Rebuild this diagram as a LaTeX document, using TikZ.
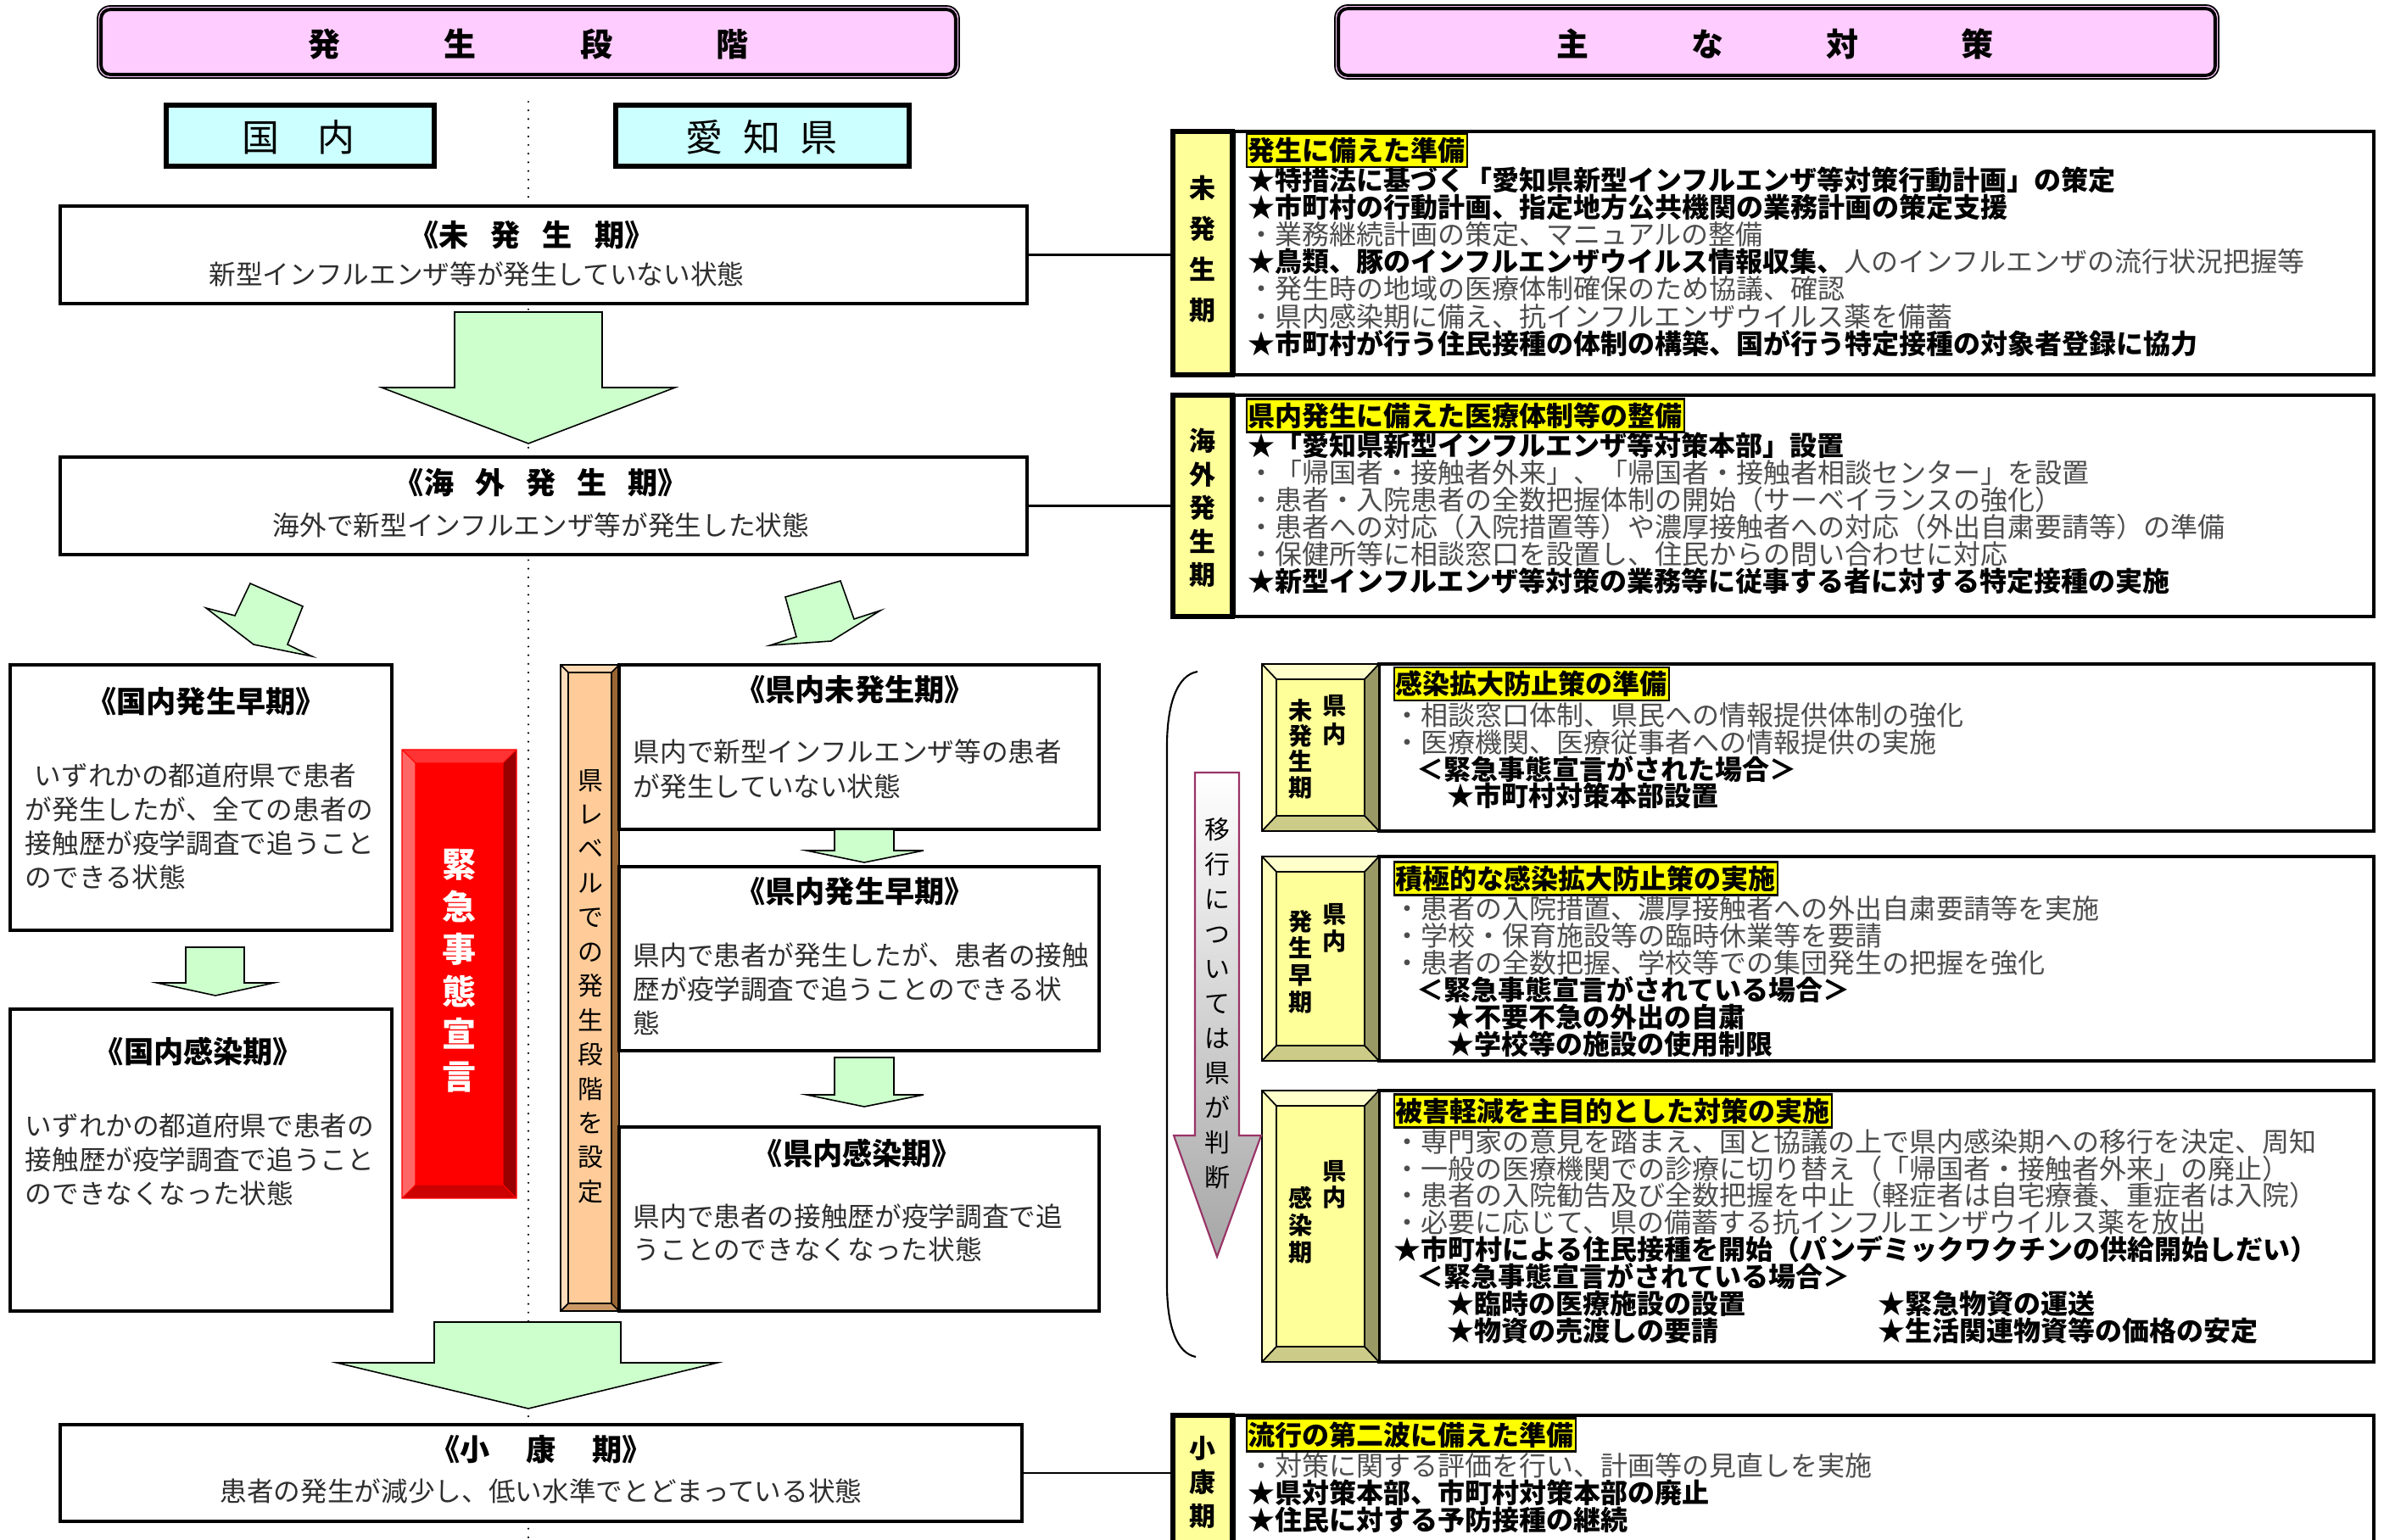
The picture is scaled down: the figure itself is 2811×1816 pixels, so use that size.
\documentclass[tikz,border=0pt]{standalone}
\usepackage{fontspec}
\setmainfont{Noto Sans CJK JP}
\usetikzlibrary{fit}
\definecolor{hdrpink}{HTML}{FFCCFF}
\definecolor{hdrcyan}{HTML}{CCFFFF}
\definecolor{agreen}{HTML}{CCFFCC}
\definecolor{lblyellow}{HTML}{FFFF99}
\definecolor{hilite}{HTML}{FFFF00}
\definecolor{tgray}{HTML}{4D4D4D}
\definecolor{bodygray}{HTML}{2E2E2E}
\definecolor{arrowborder}{HTML}{993366}
\definecolor{arrowgray}{HTML}{A6A6A6}
\definecolor{orface}{HTML}{FFCC99}
\definecolor{ortop}{HTML}{FFD9B3}
\definecolor{orleft}{HTML}{FFDDBB}
\definecolor{orright}{HTML}{996633}
\definecolor{orbot}{HTML}{CC9966}
\definecolor{rdface}{HTML}{FF0000}
\definecolor{rdtop}{HTML}{FF3333}
\definecolor{rdleft}{HTML}{FF6666}
\definecolor{rdright}{HTML}{990000}
\definecolor{rdbot}{HTML}{CC0000}
\definecolor{ylface}{HTML}{FFFF99}
\definecolor{yltop}{HTML}{FFFFCC}
\definecolor{ylleft}{HTML}{FFFFBB}
\definecolor{ylright}{HTML}{999966}
\definecolor{ylbot}{HTML}{CCCC88}
\newcommand\fR{\fontsize{9.1pt}{9.1pt}\selectfont}
\newcommand\bevelbox[6]{%
 \fill[bvtopc] (#1,#2) -- (#3,#2) -- ({#3-#5},{#2+#6}) -- ({#1+#5},{#2+#6}) -- cycle;
 \fill[bvleftc] (#1,#2) -- ({#1+#5},{#2+#6}) -- ({#1+#5},{#4-#6}) -- (#1,#4) -- cycle;
 \fill[bvrightc] (#3,#2) -- (#3,#4) -- ({#3-#5},{#4-#6}) -- ({#3-#5},{#2+#6}) -- cycle;
 \fill[bvbotc] (#1,#4) -- (#3,#4) -- ({#3-#5},{#4-#6}) -- ({#1+#5},{#4-#6}) -- cycle;
 \fill[bvfacec] ({#1+#5},{#2+#6}) rectangle ({#3-#5},{#4-#6});
 \draw[bvlinec] (#1,#2) rectangle (#3,#4) ({#1+#5},{#2+#6}) rectangle ({#3-#5},{#4-#6})
   (#1,#2) -- ({#1+#5},{#2+#6}) (#3,#2) -- ({#3-#5},{#2+#6})
   (#1,#4) -- ({#1+#5},{#4-#6}) (#3,#4) -- ({#3-#5},{#4-#6});
}
\begin{document}
\begin{tikzpicture}[x=0.01cm, y=-0.01cm,
  stagebox/.style={draw=black, line width=1pt, fill=white, inner sep=0pt},
  contentbox/.style={draw=black, line width=0.9pt, fill=white, inner sep=0pt},
  lblbox/.style={draw=black, line width=0.5pt, fill=lblyellow, inner sep=0pt},
  lblinner/.style={draw=black, line width=1.1pt},
  pinkbox/.style={draw=black, line width=0.5pt, fill=hdrpink, rounded corners=0.15cm, inner sep=0pt},
  pinkinner/.style={draw=black, line width=1.1pt, rounded corners=0.11cm},
  cyanbox/.style={draw=black, line width=1pt, fill=hdrcyan, inner sep=0pt},
  cyaninner/.style={draw=black, line width=0.45pt},
  garrow/.style={draw=black, line width=0.45pt, fill=agreen},
  conn/.style={draw=black, line width=0.6pt},
  dotline/.style={draw=black, line width=0.7pt, line cap=round, dash pattern=on 0pt off 2.9pt},
  brk/.style={draw=black, line width=0.6pt},
  hdrtext/.style={font=\fontsize{10.8pt}{12pt}\selectfont\bfseries, inner sep=0pt},
  cyantext/.style={font=\fontsize{12.5pt}{14pt}\selectfont, inner sep=0pt},
  ttlA/.style={font=\fontsize{10pt}{12pt}\selectfont\bfseries, inner sep=0pt},
  ttlB/.style={font=\fontsize{10pt}{12pt}\selectfont\bfseries, inner sep=0pt},
  subA/.style={font=\fontsize{9pt}{11pt}\selectfont, text=bodygray, inner sep=0pt},
  bodyln/.style={anchor=west, font=\fontsize{9pt}{11pt}\selectfont, text=bodygray, inner sep=0pt, text height=7.9pt, text depth=1.1pt},
  rl/.style={anchor=west, font=\fR, inner sep=0pt, text height=8pt, text depth=1.1pt},
  hl/.style={anchor=west, fill=hilite, draw=black, line width=0.6pt, inner xsep=0.5pt, inner ysep=0pt, minimum height=0.39cm, font=\fR\bfseries, text height=8pt, text depth=1.1pt},
  vtext/.style={align=center, inner sep=0pt}
]
\useasboundingbox (0,0) rectangle (2811,1816);
\fill[white] (0,0) rectangle (2811,1816);
\clip (0,0) rectangle (2811,1816);

% dotted divider
\coordinate (dotTop) at (623,120);
\coordinate (dotBot) at (623,1816);
\draw[dotline] (dotTop) -- (dotBot);

% headers
\node[pinkbox, fit={(115,7)(1131,92)}] (hdrL) {};
\draw[pinkinner] ([shift={(5,5)}]hdrL.north west) rectangle ([shift={(-5,-5)}]hdrL.south east);
\node[hdrtext] (hdrLt) at (623,52) {発\hspace{1.22cm}生\hspace{1.22cm}段\hspace{1.22cm}階};
\node[pinkbox, fit={(1574,6)(2616,93)}] (hdrR) {};
\draw[pinkinner] ([shift={(5,5)}]hdrR.north west) rectangle ([shift={(-5,-5)}]hdrR.south east);
\node[hdrtext] (hdrRt) at (2093,52) {主\hspace{1.21cm}な\hspace{1.21cm}対\hspace{1.21cm}策};

\node[cyanbox, fit={(195,123)(513,197)}] (koku) {};
\draw[cyaninner] ([shift={(5,5)}]koku.north west) rectangle ([shift={(-5,-5)}]koku.south east);
\node[cyantext] (kokuT) at (352,162) {国\hspace{0.45cm}内};
\node[cyanbox, fit={(725,123)(1073,197)}] (aichi) {};
\draw[cyaninner] ([shift={(5,5)}]aichi.north west) rectangle ([shift={(-5,-5)}]aichi.south east);
\node[cyantext] (aichiT) at (898,162) {愛\hspace{0.24cm}知\hspace{0.24cm}県};

% ---------- left: stage boxes ----------
\node[stagebox, fit={(71,243)(1211,358)}] (mih) {};
\node[ttlA] (mihT) at (627,277) {《未\hspace{0.26cm}発\hspace{0.26cm}生\hspace{0.26cm}期》};
\node[subA] (mihS) at (562,323) {新型インフルエンザ等が発生していない状態};

\draw[garrow] (536,368) -- (710,368) -- (710,457) -- (796,457) -- (623,523) -- (450,457) -- (536,457) -- cycle;

\node[stagebox, fit={(71,539)(1211,654)}] (kai) {};
\node[ttlA] (kaiT) at (638,569) {《海\hspace{0.25cm}外\hspace{0.25cm}発\hspace{0.25cm}生\hspace{0.25cm}期》};
\node[subA] (kaiS) at (638,619) {海外で新型インフルエンザ等が発生した状態};

\draw[garrow] (295,688) -- (357,715) -- (339,760) -- (368,774) -- (299,760) -- (243,717) -- (277,726) -- cycle;
\draw[garrow] (991,685) -- (1007,730) -- (1038,720) -- (980,756) -- (908,761) -- (939,751) -- (926,704) -- cycle;

\node[stagebox, fit={(12,784)(462,1097)}] (kso) {};
\node[ttlB] (ksoT) at (243,827) {《国内発生早期》};
\node[bodyln] (ksoL1) at (40,915) {いずれかの都道府県で患者};
\node[bodyln] (ksoL2) at (29,955) {が発生したが、全ての患者の};
\node[bodyln] (ksoL3) at (29,995) {接触歴が疫学調査で追うこと};
\node[bodyln] (ksoL4) at (29,1035) {のできる状態};

\draw[garrow] (219,1117) -- (288,1117) -- (288,1159) -- (323,1159) -- (254,1174) -- (185,1159) -- (219,1159) -- cycle;

\node[stagebox, fit={(12,1190)(462,1546)}] (kkan) {};
\node[ttlB] (kkanT) at (234,1240) {《国内感染期》};
\node[bodyln] (kkanL1) at (29,1328) {いずれかの都道府県で患者の};
\node[bodyln] (kkanL2) at (29,1368) {接触歴が疫学調査で追うこと};
\node[bodyln] (kkanL3) at (29,1408) {のできなくなった状態};

% red emergency bar
\begin{scope}[bvtopc/.style={fill=rdtop}, bvleftc/.style={fill=rdleft}, bvrightc/.style={fill=rdright}, bvbotc/.style={fill=rdbot}, bvfacec/.style={fill=rdface}, bvlinec/.style={draw=red, line width=0.3pt}]
\bevelbox{474}{884}{609}{1413}{16}{16}
\end{scope}
\node[vtext, font=\fontsize{11.4pt}{14.2pt}\selectfont\bfseries, text=white] (kinT) at (542,1145) {緊\\急\\事\\態\\宣\\言};

% orange bar
\begin{scope}[bvtopc/.style={fill=ortop}, bvleftc/.style={fill=orleft}, bvrightc/.style={fill=orright}, bvbotc/.style={fill=orbot}, bvfacec/.style={fill=orface}, bvlinec/.style={draw=black, line width=0.5pt}]
\bevelbox{661}{784}{730}{1546}{9}{9}
\end{scope}
\node[vtext, font=\fontsize{8.5pt}{11.5pt}\selectfont] (orT) at (696,1163) {県\\レ\\ベ\\ル\\で\\の\\発\\生\\段\\階\\を\\設\\定};

\node[stagebox, fit={(730,784)(1296,978)}] (kemi) {};
\node[ttlB] (kemiT) at (1008,813) {《県内未発生期》};
\node[bodyln] (kemiL1) at (746,887) {県内で新型インフルエンザ等の患者};
\node[bodyln] (kemiL2) at (746,928) {が発生していない状態};

\draw[garrow] (984,978) -- (1054,978) -- (1054,1003) -- (1089,1003) -- (1019,1017) -- (951,1003) -- (984,1003) -- cycle;

\node[stagebox, fit={(730,1022)(1296,1239)}] (keso) {};
\node[ttlB] (kesoT) at (1008,1051) {《県内発生早期》};
\node[bodyln] (kesoL1) at (746,1127) {県内で患者が発生したが、患者の接触};
\node[bodyln] (kesoL2) at (746,1167) {歴が疫学調査で追うことのできる状};
\node[bodyln] (kesoL3) at (746,1207) {態};

\draw[garrow] (984,1247) -- (1054,1247) -- (1054,1291) -- (1089,1291) -- (1019,1305) -- (951,1291) -- (984,1291) -- cycle;

\node[stagebox, fit={(730,1329)(1296,1546)}] (kekan) {};
\node[ttlB] (kekanT) at (1011,1360) {《県内感染期》};
\node[bodyln] (kekanL1) at (746,1435) {県内で患者の接触歴が疫学調査で追};
\node[bodyln] (kekanL2) at (746,1474) {うことのできなくなった状態};

\draw[garrow] (512,1559) -- (732,1559) -- (732,1607) -- (846,1607) -- (623,1661) -- (397,1607) -- (512,1607) -- cycle;

\node[stagebox, fit={(71,1680)(1205,1794)}] (sho) {};
\node[ttlA] (shoT) at (638,1709) {《小\hspace{0.43cm}康\hspace{0.43cm}期》};
\node[subA] (shoS) at (638,1758) {患者の発生が減少し、低い水準でとどまっている状態};

% ---------- right side ----------
\node[contentbox, fit={(1455,155)(2799,442)}] (con1) {};
\node[contentbox, fit={(1455,466)(2799,727)}] (con2) {};
\node[contentbox, fit={(1626,783)(2799,980)}] (con3) {};
\node[contentbox, fit={(1626,1010)(2799,1251)}] (con4) {};
\node[contentbox, fit={(1626,1286)(2799,1606)}] (con5) {};
\node[contentbox, fit={(1455,1669)(2799,1840)}] (con6) {};

\node[lblbox, fit={(1381,153)(1455,444)}] (lab1) {};
\draw[lblinner] ([shift={(4,4)}]lab1.north west) rectangle ([shift={(-4,-4)}]lab1.south east);
\node[lblbox, fit={(1381,464)(1455,729)}] (lab2) {};
\draw[lblinner] ([shift={(4,4)}]lab2.north west) rectangle ([shift={(-4,-4)}]lab2.south east);
\node[lblbox, fit={(1381,1667)(1455,1840)}] (lab6) {};
\draw[lblinner] ([shift={(4,4)}]lab6.north west) rectangle ([shift={(-4,-4)}]lab6.south east);

\draw[conn] (mih.east) -- (mih.east -| lab1.west);
\draw[conn] (kai.east) -- (kai.east -| lab2.west);
\draw[conn] (sho.east) -- (sho.east -| lab6.west);

\node[vtext, font=\fontsize{8.8pt}{13.66pt}\selectfont\bfseries] (lab1T) at (1418,294) {未\\発\\生\\期};
\node[vtext, font=\fontsize{8.8pt}{11.24pt}\selectfont\bfseries] (lab2T) at (1418,599) {海\\外\\発\\生\\期};
\node[vtext, font=\fontsize{8.8pt}{11.38pt}\selectfont\bfseries] (lab6T) at (1418,1748) {小\\康\\期};

% bevel labels
\begin{scope}[bvtopc/.style={fill=yltop}, bvleftc/.style={fill=ylleft}, bvrightc/.style={fill=ylright}, bvbotc/.style={fill=ylbot}, bvfacec/.style={fill=ylface}, bvlinec/.style={draw=black, line width=0.5pt}]
\bevelbox{1488}{783}{1626}{980}{17}{18}
\bevelbox{1488}{1010}{1626}{1251}{17}{18}
\bevelbox{1488}{1286}{1626}{1606}{17}{18}
\end{scope}
\node[vtext, font=\fontsize{8pt}{9.67pt}\selectfont\bfseries] (b3a) at (1574,849) {県\\内};
\node[vtext, font=\fontsize{8pt}{8.6pt}\selectfont\bfseries] (b3b) at (1534,883) {未\\発\\生\\期};
\node[vtext, font=\fontsize{8pt}{9.1pt}\selectfont\bfseries] (b4a) at (1574,1094) {県\\内};
\node[vtext, font=\fontsize{8pt}{9.0pt}\selectfont\bfseries] (b4b) at (1534,1134) {発\\生\\早\\期};
\node[vtext, font=\fontsize{8pt}{8.8pt}\selectfont\bfseries] (b5a) at (1574,1397) {県\\内};
\node[vtext, font=\fontsize{8pt}{9.1pt}\selectfont\bfseries] (b5b) at (1534,1445) {感\\染\\期};

% gray transition arrow and bracket
\shade[top color=white, bottom color=arrowgray] (1409,911) -- (1461,911) -- (1461,1339) -- (1487,1339) -- (1435,1482) -- (1384,1339) -- (1409,1339) -- cycle;
\draw[draw=arrowborder, line width=0.6pt] (1409,911) -- (1461,911) -- (1461,1339) -- (1487,1339) -- (1435,1482) -- (1384,1339) -- (1409,1339) -- cycle;
\node[vtext, font=\fontsize{8.5pt}{11.66pt}\selectfont] (graT) at (1435,1183) {移\\行\\に\\つ\\い\\て\\は\\県\\が\\判\\断};
\draw[brk] (1412,792) .. controls (1388,796) and (1376,830) .. (1376,880) -- (1376,1515) .. controls (1376,1565) and (1388,1596) .. (1410,1600);

% highlighted headings
\node[hl] (h1) at (1469,177.5) {発生に備えた準備};
\node[hl] (h2) at (1469,490) {県内発生に備えた医療体制等の整備};
\node[hl] (h3) at (1643,806.5) {感染拡大防止策の準備};
\node[hl] (h4) at (1643,1036) {積極的な感染拡大防止策の実施};
\node[hl] (h5) at (1643,1310) {被害軽減を主目的とした対策の実施};
\node[hl] (h6) at (1469,1692) {流行の第二波に備えた準備};

% block 1
\foreach \txt [count=\i from 0] in {
 {\bfseries ★特措法に基づく「愛知県新型インフルエンザ等対策行動計画」の策定},
 {\bfseries ★市町村の行動計画、指定地方公共機関の業務計画の策定支援},
 {\color{tgray}・業務継続計画の策定、マニュアルの整備},
 {\bfseries ★鳥類、豚のインフルエンザウイルス情報収集、{\mdseries\color{tgray}人のインフルエンザの流行状況把握等}},
 {\color{tgray}・発生時の地域の医療体制確保のため協議、確認},
 {\color{tgray}・県内感染期に備え、抗インフルエンザウイルス薬を備蓄},
 {\bfseries ★市町村が行う住民接種の体制の構築、国が行う特定接種の対象者登録に協力}}
 \node[rl] (pa\i) at (1471,{212+32.2*\i}) {\txt};

% block 2
\foreach \txt [count=\i from 0] in {
 {\bfseries ★「愛知県新型インフルエンザ等対策本部」設置},
 {\color{tgray}・「帰国者・接触者外来」、「帰国者・接触者相談センター」を設置},
 {\color{tgray}・患者・入院患者の全数把握体制の開始（サーベイランスの強化）},
 {\color{tgray}・患者への対応（入院措置等）や濃厚接触者への対応（外出自粛要請等）の準備},
 {\color{tgray}・保健所等に相談窓口を設置し、住民からの問い合わせに対応},
 {\bfseries ★新型インフルエンザ等対策の業務等に従事する者に対する特定接種の実施}}
 \node[rl] (pb\i) at (1471,{525+32*\i}) {\txt};

% block 3
\node[rl, text=tgray] (pc1) at (1643,843) {・相談窓口体制、県民への情報提供体制の強化};
\node[rl, text=tgray] (pc2) at (1643,875) {・医療機関、医療従事者への情報提供の実施};
\node[rl, font=\fR\bfseries] (pc3) at (1670,907) {＜緊急事態宣言がされた場合＞};
\node[rl, font=\fR\bfseries] (pc4) at (1706,938) {★市町村対策本部設置};

% block 4
\node[rl, text=tgray] (pd1) at (1643,1071) {・患者の入院措置、濃厚接触者への外出自粛要請等を実施};
\node[rl, text=tgray] (pd2) at (1643,1103) {・学校・保育施設等の臨時休業等を要請};
\node[rl, text=tgray] (pd3) at (1643,1135) {・患者の全数把握、学校等での集団発生の把握を強化};
\node[rl, font=\fR\bfseries] (pd4) at (1670,1167) {＜緊急事態宣言がされている場合＞};
\node[rl, font=\fR\bfseries] (pd5) at (1706,1199) {★不要不急の外出の自粛};
\node[rl, font=\fR\bfseries] (pd6) at (1706,1231) {★学校等の施設の使用制限};

% block 5
\node[rl, text=tgray] (pe1) at (1643,1346) {・専門家の意見を踏まえ、国と協議の上で県内感染期への移行を決定、周知};
\node[rl, text=tgray] (pe2) at (1643,1378) {・一般の医療機関での診療に切り替え（「帰国者・接触者外来」の廃止）};
\node[rl, text=tgray] (pe3) at (1643,1409) {・患者の入院勧告及び全数把握を中止（軽症者は自宅療養、重症者は入院）};
\node[rl, text=tgray] (pe4) at (1643,1441) {・必要に応じて、県の備蓄する抗インフルエンザウイルス薬を放出};
\node[rl, font=\fR\bfseries] (pe5) at (1643,1473) {★市町村による住民接種を開始（パンデミックワクチンの供給開始しだい）};
\node[rl, font=\fR\bfseries] (pe6) at (1670,1505) {＜緊急事態宣言がされている場合＞};
\node[rl, font=\fR\bfseries] (pe7) at (1706,1537) {★臨時の医療施設の設置};
\node[rl, font=\fR\bfseries] (pe8) at (2214,1537) {★緊急物資の運送};
\node[rl, font=\fR\bfseries] (pe9) at (1706,1569) {★物資の売渡しの要請};
\node[rl, font=\fR\bfseries] (pe10) at (2214,1569) {★生活関連物資等の価格の安定};

% block 6
\node[rl, text=tgray] (pf1) at (1471,1728) {・対策に関する評価を行い、計画等の見直しを実施};
\node[rl, font=\fR\bfseries] (pf2) at (1471,1760) {★県対策本部、市町村対策本部の廃止};
\node[rl, font=\fR\bfseries] (pf3) at (1471,1792) {★住民に対する予防接種の継続};
\end{tikzpicture}
\end{document}
